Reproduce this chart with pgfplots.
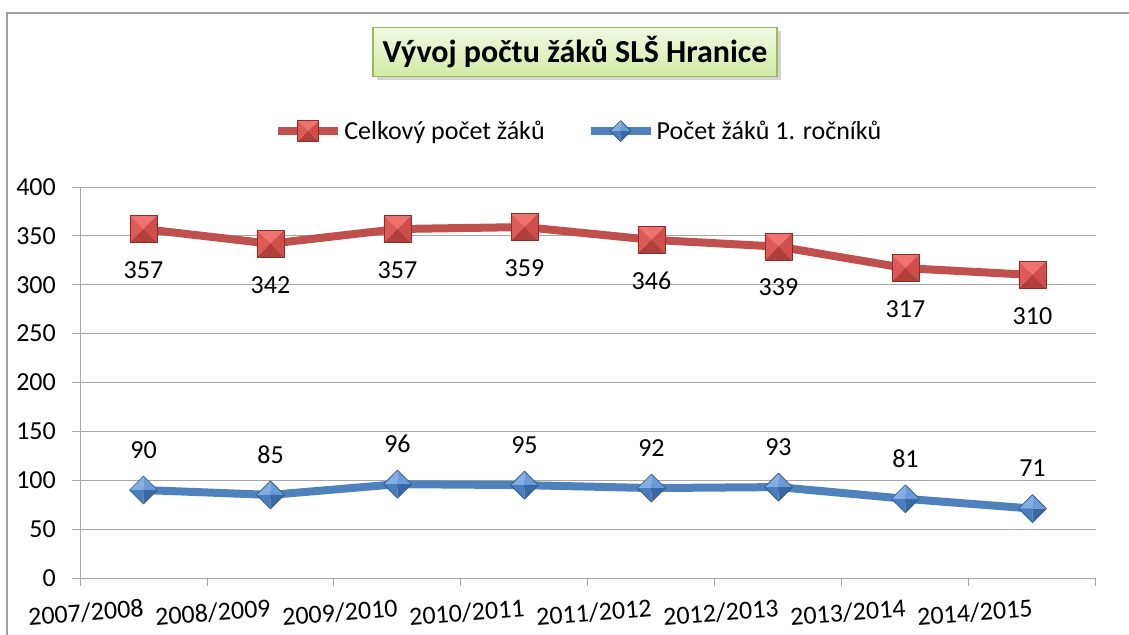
\documentclass[border=0pt]{standalone}
\usepackage{fontspec}
\setmainfont{Carlito}
\usepackage{pgfplots}
\pgfplotsset{compat=1.18}
\usetikzlibrary{shadows}
\definecolor{redl}{HTML}{C0504D}
\definecolor{rtop}{HTML}{EE7370}
\definecolor{rleft}{HTML}{DC5B58}
\definecolor{rright}{HTML}{CF4E4B}
\definecolor{rbot}{HTML}{B03E3B}
\definecolor{rdark}{HTML}{8C2D2A}
\definecolor{bluel}{HTML}{4F81BD}
\definecolor{btl}{HTML}{82AEE4}
\definecolor{btr}{HTML}{6A9BD8}
\definecolor{bbl}{HTML}{4A7DBE}
\definecolor{bbr}{HTML}{3A68A4}
\definecolor{bdark}{HTML}{2E5586}
\definecolor{gridc}{HTML}{A6A6A6}
\definecolor{ttop}{HTML}{F1F9E2}
\definecolor{tbot}{HTML}{D3EAA6}
\definecolor{tbrd}{HTML}{9BBB59}

\pgfdeclareplotmark{pyrsq}{%
  \pgfpathmoveto{\pgfqpoint{-\pgfplotmarksize}{\pgfplotmarksize}}%
  \pgfpathlineto{\pgfqpoint{\pgfplotmarksize}{\pgfplotmarksize}}%
  \pgfpathlineto{\pgfpointorigin}\pgfpathclose
  \pgfsetfillcolor{rtop}\pgfusepath{fill}%
  \pgfpathmoveto{\pgfqpoint{-\pgfplotmarksize}{\pgfplotmarksize}}%
  \pgfpathlineto{\pgfqpoint{-\pgfplotmarksize}{-\pgfplotmarksize}}%
  \pgfpathlineto{\pgfpointorigin}\pgfpathclose
  \pgfsetfillcolor{rleft}\pgfusepath{fill}%
  \pgfpathmoveto{\pgfqpoint{\pgfplotmarksize}{\pgfplotmarksize}}%
  \pgfpathlineto{\pgfqpoint{\pgfplotmarksize}{-\pgfplotmarksize}}%
  \pgfpathlineto{\pgfpointorigin}\pgfpathclose
  \pgfsetfillcolor{rright}\pgfusepath{fill}%
  \pgfpathmoveto{\pgfqpoint{-\pgfplotmarksize}{-\pgfplotmarksize}}%
  \pgfpathlineto{\pgfqpoint{\pgfplotmarksize}{-\pgfplotmarksize}}%
  \pgfpathlineto{\pgfpointorigin}\pgfpathclose
  \pgfsetfillcolor{rbot}\pgfusepath{fill}%
  \pgfsetlinewidth{0.8pt}%
  \pgfpathrectanglecorners{\pgfqpoint{-\pgfplotmarksize}{-\pgfplotmarksize}}{\pgfqpoint{\pgfplotmarksize}{\pgfplotmarksize}}%
  \pgfsetstrokecolor{rdark}\pgfusepath{stroke}%
}
\pgfdeclareplotmark{pyrdia}{%
  \pgfpathmoveto{\pgfqpoint{0pt}{\pgfplotmarksize}}%
  \pgfpathlineto{\pgfqpoint{-\pgfplotmarksize}{0pt}}%
  \pgfpathlineto{\pgfpointorigin}\pgfpathclose
  \pgfsetfillcolor{btl}\pgfusepath{fill}%
  \pgfpathmoveto{\pgfqpoint{0pt}{\pgfplotmarksize}}%
  \pgfpathlineto{\pgfqpoint{\pgfplotmarksize}{0pt}}%
  \pgfpathlineto{\pgfpointorigin}\pgfpathclose
  \pgfsetfillcolor{btr}\pgfusepath{fill}%
  \pgfpathmoveto{\pgfqpoint{0pt}{-\pgfplotmarksize}}%
  \pgfpathlineto{\pgfqpoint{-\pgfplotmarksize}{0pt}}%
  \pgfpathlineto{\pgfpointorigin}\pgfpathclose
  \pgfsetfillcolor{bbl}\pgfusepath{fill}%
  \pgfpathmoveto{\pgfqpoint{0pt}{-\pgfplotmarksize}}%
  \pgfpathlineto{\pgfqpoint{\pgfplotmarksize}{0pt}}%
  \pgfpathlineto{\pgfpointorigin}\pgfpathclose
  \pgfsetfillcolor{bbr}\pgfusepath{fill}%
  \pgfsetlinewidth{0.6pt}%
  \pgfpathmoveto{\pgfqpoint{0pt}{\pgfplotmarksize}}%
  \pgfpathlineto{\pgfqpoint{\pgfplotmarksize}{0pt}}%
  \pgfpathlineto{\pgfqpoint{0pt}{-\pgfplotmarksize}}%
  \pgfpathlineto{\pgfqpoint{-\pgfplotmarksize}{0pt}}\pgfpathclose
  \pgfsetstrokecolor{bdark}\pgfusepath{stroke}%
}

\begin{document}
\begin{tikzpicture}
\useasboundingbox (0,0) rectangle (1129bp,635bp);
\draw[gray!75, line width=1.5bp] (7bp,-5bp) -- (7bp,622bp) -- (1135bp,622bp);
\begin{axis}[
  at={(80bp,57bp)}, anchor=south west,
  width=1016bp, height=391bp, scale only axis,
  xmin=0, xmax=8, ymin=0, ymax=400,
  axis x line=bottom, axis y line=left,
  axis line style={-, gridc, line width=1pt},
  xtick={0,1,2,3,4,5,6,7,8},
  xticklabels={2007/2008,2008/2009,2009/2010,2010/2011,2011/2012,2012/2013,2013/2014,2014/2015,{}},
  ytick={0,50,100,150,200,250,300,350,400},
  ymajorgrids, grid style={gridc, line width=1pt},
  major tick style={gridc, line width=1pt}, major tick length=8bp, tick align=outside,
  tick label style={font=\fontsize{26bp}{30bp}\selectfont, black},
  /pgf/number format/assume math mode=true,
  xticklabel style={rotate=4, anchor=center, yshift=-27bp, xshift=4bp},
  yticklabel style={anchor=east, inner sep=0pt, xshift=-16bp},
  clip=false,
  legend columns=2,
  legend style={at={(0.491,1.143)}, anchor=center, draw=none, fill=none,
    font=\fontsize{26bp}{30bp}\selectfont,
    /tikz/every even column/.append style={column sep=40bp},
    inner sep=0pt},
  legend image code/.code={%
    \draw[#1, mark=none] (0bp,0bp) -- (60bp,0bp);
    \draw[#1, only marks, mark size=10.5bp] plot coordinates {(30bp,0bp)};},
]
\addplot[redl, line width=8bp, line join=round, mark=pyrsq, mark size=13.5bp,
  nodes near coords, /pgf/number format/assume math mode=true,
  nodes near coords style={anchor=center, yshift=-41bp, black, font=\fontsize{26bp}{30bp}\selectfont}]
  coordinates {(0.5,357) (1.5,342) (2.5,357) (3.5,359) (4.5,346) (5.5,339) (6.5,317) (7.5,310)};
\addlegendentry{Celkový počet žáků}
\addplot[bluel, line width=8bp, line join=round, mark=pyrdia, mark size=14bp,
  nodes near coords, /pgf/number format/assume math mode=true,
  nodes near coords style={anchor=center, yshift=40bp, black, font=\fontsize{26bp}{30bp}\selectfont}]
  coordinates {(0.5,90) (1.5,85) (2.5,96) (3.5,95) (4.5,92) (5.5,93) (6.5,81) (7.5,71)};
\addlegendentry{Počet žáků 1. ročníků}
\end{axis}
\node[draw=tbrd, line width=1.5bp, top color=ttop, bottom color=tbot,
  minimum width=404bp, minimum height=49bp, inner sep=0pt,
  drop shadow={opacity=0.35, shadow xshift=4bp, shadow yshift=-4bp},
  font=\fontsize{32bp}{36bp}\selectfont\bfseries] at (575bp,583bp) {Vývoj počtu žáků SLŠ Hranice};
\end{tikzpicture}
\end{document}
